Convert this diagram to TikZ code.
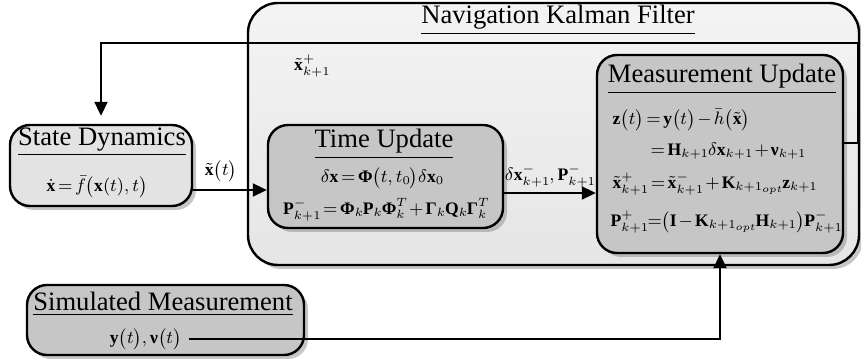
\documentclass[tikz,border=0pt]{standalone}
\usepackage{amsmath,amssymb}
\usepackage{fontspec}
\setmainfont{Liberation Serif}
\usetikzlibrary{arrows.meta,shadows}
\thickmuskip=2.5mu\relax
\medmuskip=2mu\relax
\scriptspace=0pt\relax
\newcommand{\bPhi}{\text{\bfseries Φ}}
\newcommand{\bGamma}{\text{\bfseries Γ}}
\newcommand{\bnu}{\text{\bfseries ν}}

\tikzset{
  box/.style={draw, line width=1.2pt, rounded corners=10pt, inner sep=0pt,
    drop shadow={shadow xshift=2pt, shadow yshift=-2pt, opacity=.45}},
  lightbox/.style={box, fill=gray!22},
  darkbox/.style={box, fill=gray!45},
  boxtitle/.style={font=\fontsize{13.3}{16}\selectfont},
  eq/.style={font=\fontsize{8.8}{11}\selectfont},
}

\begin{document}
\begin{tikzpicture}[x=0.5pt, y=-0.5pt, line width=1pt, -{Triangle[length=7pt,width=6.5pt]}]
	\useasboundingbox (0,0) rectangle (861,362);
	% outer filter box
	\node[box, rounded corners=15pt, top color=gray!9, bottom color=gray!20, minimum width=305.5pt, minimum height=131pt] (nkf) at (553.5,134) {};
	\node[boxtitle] (nkftitle) at (558,20) {\underline{Navigation Kalman Filter}};
	\node[eq] (xplus) at (312,66) {$\tilde{\mathbf{x}}^{+}_{k+1}$};
	% blocks
	\node[lightbox, minimum width=91pt, minimum height=40.5pt] (sd) at (101,165.5) {};
	\node[darkbox, minimum width=117.5pt, minimum height=51.5pt] (tu) at (385.5,176.5) {};
	\node[darkbox, minimum width=123pt, minimum height=99pt] (mu) at (720,154) {};
	\node[darkbox, minimum width=138.5pt, minimum height=35pt] (sm) at (165.5,320) {};
	% state dynamics
	\node[boxtitle] (sdtitle) at (102,142) {\underline{State Dynamics}};
	\node[eq] (sdeq) at (97,187) {$\dot{\mathbf{x}}=\bar{f}\big(\mathbf{x}(t),t\big)$};
	\node[eq] (xt) at (221,171) {$\tilde{\mathbf{x}}\big(t\big)$};
	% time update
	\node[boxtitle] (tutitle) at (384,144) {\underline{Time Update}};
	\node[eq] (tueqa) at (382,178) {$\delta\mathbf{x}=\bPhi\big(t,t_0\big)\delta\mathbf{x}_0$};
	\node[eq] (tueqb) at (386,210) {$\mathbf{P}^{-}_{k+1}=\bPhi_k\mathbf{P}_k\bPhi^{T}_k+\bGamma_k\mathbf{Q}_k\bGamma^{T}_k$};
	\node[eq] (dxp) at (550,176) {$\delta\mathbf{x}^{-}_{k+1},\mathbf{P}^{-}_{k+1}$};
	% measurement update
	\node[boxtitle] (mutitle) at (722,79) {\underline{Measurement Update}};
	\node[eq, anchor=west] (mueqa) at (605,120) {$\mathbf{z}\big(t\big)=\mathbf{y}\big(t\big)-\bar{h}\big(\tilde{\mathbf{x}}\big)$};
	\node[eq, anchor=west] (mueqb) at (643,151) {$=\mathbf{H}_{k+1}\delta\mathbf{x}_{k+1}+\bnu_{k+1}$};
	\node[eq, anchor=west] (mueqc) at (605,184) {$\tilde{\mathbf{x}}^{+}_{k+1}=\tilde{\mathbf{x}}^{-}_{k+1}+\mathbf{K}_{k+1_{opt}}\mathbf{z}_{k+1}$};
	\node[eq, anchor=west] (mueqd) at (603,222) {$\mathbf{P}^{+}_{k+1}\!=\!\bigl(\mathbf{I}-\mathbf{K}_{k+1_{opt}}\mathbf{H}_{k+1}\bigr)\mathbf{P}^{-}_{k+1}$};
	% simulated measurement
	\node[boxtitle] (smtitle) at (163,304) {\underline{Simulated Measurement}};
	\node[eq, anchor=east] (yv) at (189,339) {$\mathbf{y}\big(t\big),\bnu\big(t\big)$};
	% connections
	\coordinate (fbk) at (858,143);
	\coordinate (fbtop) at (858,43);
	\coordinate (sdtu) at (0,190);
	\coordinate (tumu) at (0,193);
	\draw (sd.east |- sdtu) -- (tu.west |- sdtu);
	\draw (tu.east |- tumu) -- (mu.west |- tumu);
	\draw[shorten >=4pt] (mu.east |- fbk) -| (fbtop) -| (sd.north);
	\draw (yv.east) -| (mu.south);
\end{tikzpicture}
\end{document}
